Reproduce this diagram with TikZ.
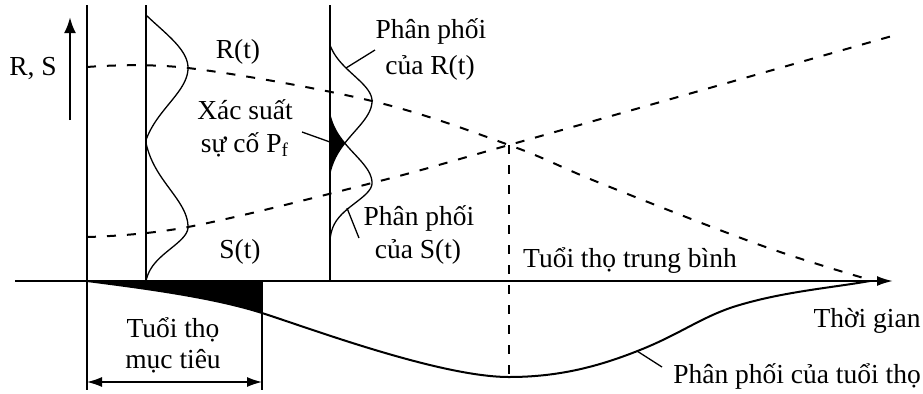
\documentclass[tikz,border=0pt]{standalone}
\usepackage{fontspec}
\setmainfont{Liberation Serif}
\usetikzlibrary{arrows.meta}
\begin{document}
\begin{tikzpicture}[x=0.5pt,y=-0.5pt,
  declare function={bell(\vv,\TT,\kk)=(exp(-((\vv/(\kk*\TT))^2)/2)-exp(-1/(2*\kk*\kk)))/(1-exp(-1/(2*\kk*\kk)));},
  lbl/.style={inner sep=0pt,anchor=base,font=\fontsize{13.75}{16}\selectfont},
  thickline/.style={line width=1pt},
  thinline/.style={line width=0.65pt},
  dashline/.style={line width=1pt,dash pattern=on 4.5pt off 5.5pt},
]
\useasboundingbox (0,0) rectangle (923,393);
% key coordinates
\coordinate (axL) at (15,281);
\coordinate (axR) at (893,281);
\coordinate (v1t) at (87,5);
\coordinate (v1b) at (87,390);
\coordinate (v2t) at (146,5);
\coordinate (v2b) at (146,281);
\coordinate (v3t) at (330,5);
\coordinate (v3b) at (330,281);
\coordinate (v4t) at (262,281);
\coordinate (v4b) at (262,390);
\coordinate (upB) at (70,120);
\coordinate (upT) at (70,17);
\coordinate (dimL) at (87,382);
\coordinate (dimR) at (262,382);
\coordinate (X) at (509,145);
\coordinate (Xb) at (509,377);

% axes and vertical lines
\draw[thickline,-{Latex[length=8pt,width=5pt]}] (axL) -- (axR);
\draw[thickline] (v1t) -- (v1b);
\draw[thickline] (v2t) -- (v2b);
\draw[thickline] (v3t) -- (v3b);
\draw[thickline] (v4t) -- (v4b);
\draw[line width=1.3pt,-{Latex[length=8pt,width=6pt]}] (upB) -- (upT);
\draw[thinline,{Latex[length=7.5pt,width=5pt]}-{Latex[length=7.5pt,width=5pt]}] (dimL) -- (dimR);

% dashed R(t) and S(t)
\draw[dashline] plot[smooth,tension=0.6] coordinates {(87,67) (188,68) (372,101) (509,145) (600,183) (760,245) (867,279)};
\draw[dashline] plot[smooth,tension=0.6] coordinates {(87,237) (188,227) (372,183) (509,145) (892,36)};
\draw[dashline] (X) -- (Xb);

% bells at first time
\draw[thinline] plot[domain=-53:0,samples=40,variable=\yy] ({146+42*bell(\yy,53,0.8)},{68+\yy})
  -- plot[domain=0:72,samples=40,variable=\yy] ({146+42*bell(\yy,72,0.5)},{68+\yy});
\draw[thinline] plot[domain=-84:0,samples=40,variable=\yy] ({146+42*bell(\yy,84,0.45)},{227+\yy})
  -- plot[domain=0:54,samples=40,variable=\yy] ({146+42*bell(\yy,54,0.4)},{227+\yy});

% overlap fill at second time
\fill plot[domain=115:173,samples=60,variable=\yy] ({330+42*min(bell(\yy-183,68,0.43),bell(\yy-101,72,0.43))},{\yy}) -- cycle;
% bells at second time
\draw[thinline] plot[domain=-56:0,samples=40,variable=\yy] ({330+42*bell(\yy,56,0.46)},{101+\yy})
  -- plot[domain=0:72,samples=40,variable=\yy] ({330+42*bell(\yy,72,0.43)},{101+\yy});
\draw[thinline] plot[domain=-68:0,samples=40,variable=\yy] ({330+42*bell(\yy,68,0.43)},{183+\yy})
  -- plot[domain=0:57,samples=40,variable=\yy] ({330+42*bell(\yy,57,0.35)},{183+\yy});

% life distribution
\fill (87,281) .. controls (150,289) and (215,298) .. (262,313) -- (262,281) -- cycle;
\draw[thickline] (87,281) .. controls (150,289) and (215,298) .. (262,313)
  .. controls (309,328) and (440,377) .. (509,377)
  .. controls (560,377) and (600,366) .. (640,350)
  .. controls (680,334) and (700,318) .. (733,307)
  .. controls (780,292) and (830,288) .. (870,281);

% labels
\node[lbl] (rs) at (33,75) {R, S};
\node[lbl] (rt) at (238,58) {R(t)};
\node[lbl] (xs1) at (245,119) {Xác suất};
\node[lbl] (xs2) at (245,152) {sự cố P\textsubscript{f}};
\node[lbl] (ppr1) at (431,38) {Phân phối};
\node[lbl] (ppr2) at (430,74) {của R(t)};
\node[lbl] (pps1) at (419,225) {Phân phối};
\node[lbl] (pps2) at (418,258) {của S(t)};
\node[lbl] (st) at (240,258) {S(t)};
\node[lbl] (ttb) at (630,267) {Tuổi thọ trung bình};
\node[lbl] (tg) at (867,327) {Thời gian};
\node[lbl] (ppt) at (797,383) {Phân phối của tuổi thọ};
\node[lbl] (tt1) at (173,337) {Tuổi thọ};
\node[lbl] (tt2) at (173,368) {mục tiêu};

% leaders
\coordinate (pfA) at (302,132);
\coordinate (pfB) at (330,142);
\coordinate (rA) at (375,50);
\coordinate (rB) at (346,68);
\coordinate (sA) at (347,208);
\coordinate (sB) at (359,238);
\coordinate (lA) at (637,351);
\coordinate (lB) at (662,367);
\draw[thinline] (pfA) -- (pfB);
\draw[thinline] (rA) -- (rB);
\draw[thinline] (sA) -- (sB);
\draw[thinline] (lA) -- (lB);
\end{tikzpicture}
\end{document}
